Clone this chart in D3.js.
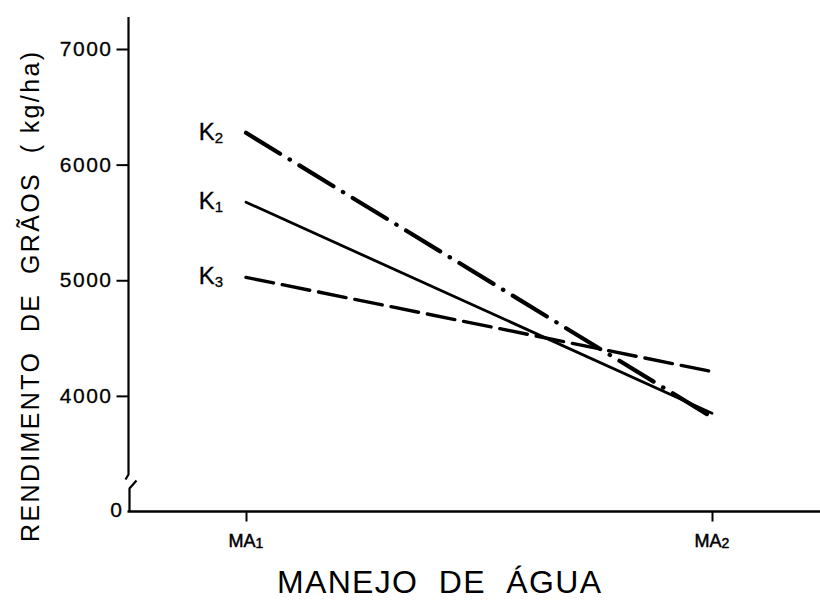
<!DOCTYPE html>
<html>
<head>
<meta charset="utf-8">
<script src="https://cdn.jsdelivr.net/npm/d3@7"></script>
<style>
  html, body { margin: 0; padding: 0; background: #fff; }
  svg { display: block; }
  text { font-family: "Liberation Sans", Arial, Helvetica, sans-serif; fill: #000; }
</style>
</head>
<body>
<svg id="chart" width="820" height="602"></svg>
<script>
// ---- data ----
const categories = ["MA1", "MA2"];
const categoryLabels = [["MA", "1"], ["MA", "2"]];
const K1 = [5675, 3850];
const K2 = [6275, 3815];
const K3 = [5025, 4210];
const yTicks = [4000, 5000, 6000, 7000];
const yTickLabels = ["4000", "5000", "6000", "7000"];
const zeroLabel = "0";
const yTitle = "RENDIMENTO  DE  GRÃOS  ( kg/ha)";
const xTitle = "MANEJO  DE  ÁGUA";

const series = [
  { name: "K", sub: "2", values: K2, dash: "40,11,0.5,11", width: 4.2 },
  { name: "K", sub: "1", values: K1, dash: null, width: 2.8 },
  { name: "K", sub: "3", values: K3, dash: "28,9", width: 3.4 }
];

const svg = d3.select("#chart");

// scales (3000 is where the broken axis meets the x axis, labelled "0")
const x = d3.scalePoint().domain(categories).range([246, 712]).padding(0);
const y = d3.scaleLinear().domain([3000, 7000]).range([511.5, 49]);
const axisX0 = 128.5;

// y axis ticks & labels
const yAxis = d3.axisLeft(y).tickValues(yTicks).tickSize(12).tickPadding(4)
  .tickFormat((d, i) => yTickLabels[i]);
const gy = svg.append("g").attr("transform", `translate(${axisX0},0)`).call(yAxis);
gy.select(".domain").remove();
gy.selectAll(".tick line").attr("stroke", "#000").attr("stroke-width", 2);
gy.selectAll(".tick text").attr("font-size", 21).attr("letter-spacing", 1.5)
  .attr("font-family", "Liberation Sans, Arial, sans-serif").attr("fill", "#000")
  .attr("stroke", "#000").attr("stroke-width", 0.3);

// zero label at the axis break
svg.append("text").attr("x", 122).attr("y", y(3000) - 2)
  .attr("text-anchor", "end").attr("dominant-baseline", "central")
  .attr("font-size", 21).attr("stroke", "#000").attr("stroke-width", 0.3).text(zeroLabel);

// broken y axis line
svg.append("path")
  .attr("d", `M${axisX0},17 V${y(3000) - 37} L${axisX0 - 3},${y(3000) - 32}`)
  .attr("fill", "none").attr("stroke", "#000").attr("stroke-width", 2.2);
svg.append("path")
  .attr("d", `M${axisX0 + 8},${y(3000) - 31} L${axisX0 + 1},${y(3000) - 23} V${y(3000)}`)
  .attr("fill", "none").attr("stroke", "#000").attr("stroke-width", 2.2);

// x axis
const xAxis = d3.axisBottom(x).tickSize(10).tickFormat("");
const gx = svg.append("g").attr("transform", `translate(0,${y(3000)})`).call(xAxis);
gx.select(".domain").remove();
gx.selectAll(".tick line").attr("stroke", "#000").attr("stroke-width", 2);
svg.append("line")
  .attr("x1", axisX0 - 1).attr("x2", 820)
  .attr("y1", y(3000)).attr("y2", y(3000))
  .attr("stroke", "#000").attr("stroke-width", 2.6);

// x category labels with subscripts
categories.forEach((c, i) => {
  const t = svg.append("text")
    .attr("x", x(c)).attr("y", 547)
    .attr("text-anchor", "middle")
    .attr("font-size", 18).attr("stroke", "#000").attr("stroke-width", 0.5);
  t.append("tspan").text(categoryLabels[i][0]);
  t.append("tspan").attr("font-size", 14).attr("dy", 1).text(categoryLabels[i][1]);
});

// series lines
const line = d3.line().x((d, i) => x(categories[i])).y(d => y(d));
series.forEach(s => {
  svg.append("path")
    .datum(s.values)
    .attr("d", line)
    .attr("fill", "none")
    .attr("stroke", "#000")
    .attr("stroke-width", s.width)
    .attr("stroke-linecap", "round")
    .attr("stroke-dasharray", s.dash);
  const t = svg.append("text")
    .attr("x", x(categories[0]) - 23)
    .attr("y", y(s.values[0]) + 7)
    .attr("text-anchor", "end")
    .attr("font-size", 24)
    .attr("stroke", "#000").attr("stroke-width", 0.3);
  t.append("tspan").text(s.name);
  t.append("tspan").attr("font-size", 15).attr("dy", 3).text(s.sub);
});

// axis titles
svg.append("text")
  .attr("transform", "translate(39,297) rotate(-90)")
  .attr("text-anchor", "middle")
  .attr("font-size", 25)
  .attr("textLength", 490).attr("lengthAdjust", "spacing")
  .style("white-space", "pre")
  .text(yTitle);

svg.append("text")
  .attr("x", 439).attr("y", 593)
  .attr("text-anchor", "middle")
  .attr("font-size", 32)
  .attr("textLength", 324).attr("lengthAdjust", "spacing")
  .style("white-space", "pre")
  .text(xTitle);
</script>
</body>
</html>
